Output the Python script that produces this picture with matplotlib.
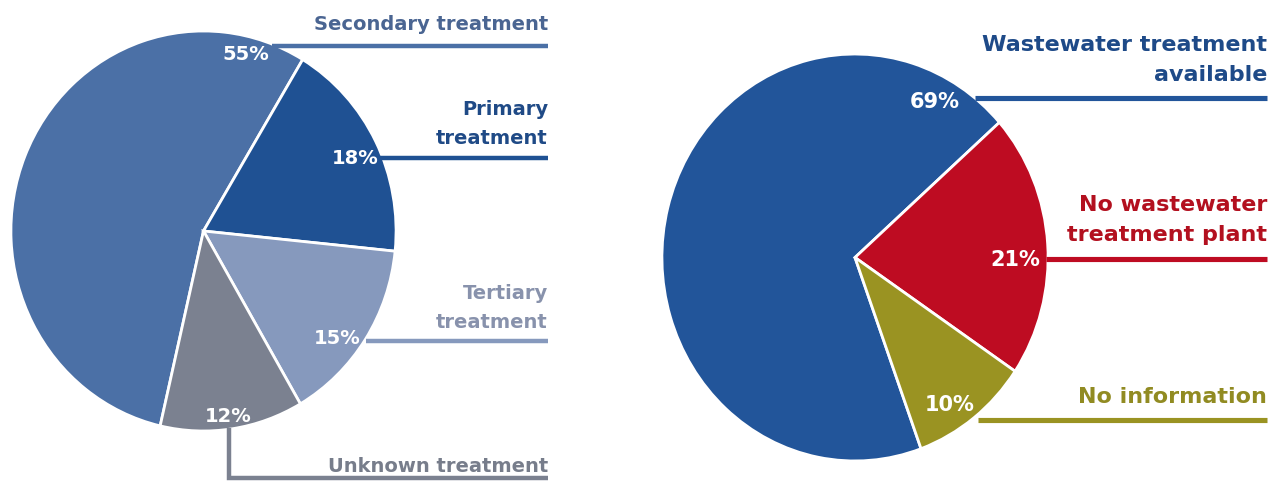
import matplotlib
matplotlib.use("Agg")
import matplotlib.pyplot as plt

# Left chart: treatment level of wastewater
treat_labels = ["Secondary treatment", "Primary\ntreatment", "Tertiary\ntreatment", "Unknown treatment"]
treat_values = [55, 18, 15, 12]
treat_colors = ["#4b70a6", "#1f5193", "#8699bd", "#7b8190"]
treat_text_colors = ["#4a6592", "#1f4a86", "#8892ac", "#777d8b"]

# Right chart: wastewater treatment availability
avail_labels = ["Wastewater treatment\navailable", "No wastewater\ntreatment plant", "No information"]
avail_values = [69, 21, 10]
avail_colors = ["#22559a", "#be0c22", "#9a9322"]
avail_text_colors = ["#1e4a88", "#b3101f", "#918b22"]

W, H = 1276, 482
fig = plt.figure(figsize=(W / 100, H / 100), dpi=100)
fig.patch.set_facecolor("white")


def pie_axes(x0, y0, x1, y1):
    # axes covering the pie's pixel box (image coords, y down)
    ax = fig.add_axes([x0 / W, 1 - y1 / H, (x1 - x0) / W, (y1 - y0) / H])
    return ax


ax1 = pie_axes(9, 29, 398, 433)
ax1.pie(treat_values, colors=treat_colors, startangle=257, counterclock=False,
        radius=1, wedgeprops=dict(edgecolor="white", linewidth=2))
ax1.set_xlim(-1.01, 1.01)
ax1.set_ylim(-1.01, 1.01)
ax1.set_aspect("auto")

ax2 = pie_axes(660, 52, 1050, 463)
ax2.pie(avail_values, colors=avail_colors, startangle=290, counterclock=False,
        radius=1, wedgeprops=dict(edgecolor="white", linewidth=2))
ax2.set_xlim(-1.01, 1.01)
ax2.set_ylim(-1.01, 1.01)
ax2.set_aspect("auto")

# overlay in pixel coordinates for labels and leader lines
ov = fig.add_axes([0, 0, 1, 1])
ov.set_xlim(0, W)
ov.set_ylim(H, 0)
ov.axis("off")

font = "DejaVu Sans"
lw = 3.2

# left: (pct x, pct y, line x start, line y, label y centre)
left_layout = [(246, 55, 272, 46, 25),
               (355, 158, 380, 158, 124),
               (337, 338, 366, 341, 308),
               (228, 416, None, 478, 467)]
for i, (px, py, lx, ly, ty) in enumerate(left_layout):
    ov.text(px, py, f"{treat_values[i]}%", color="white", fontsize=14, fontweight="bold",
            family=font, ha="center", va="center")
    if lx is None:
        ov.plot([229, 229, 548], [428, ly, ly], color=treat_colors[i], lw=lw,
                solid_joinstyle="miter", solid_capstyle="butt")
    else:
        ov.plot([lx, 548], [ly, ly], color=treat_colors[i], lw=lw, solid_capstyle="butt")
    ov.text(548, ty, treat_labels[i], color=treat_text_colors[i], fontsize=14, fontweight="bold",
            family=font, ha="right", va="center", linespacing=1.62)

right_layout = [(935, 102, 975, 98, 60),
                (1015, 260, 1046, 259, 220),
                (950, 405, 978, 420, 397)]
for i, (px, py, lx, ly, ty) in enumerate(right_layout):
    ov.text(px, py, f"{avail_values[i]}%", color="white", fontsize=15, fontweight="bold",
            family=font, ha="center", va="center")
    ov.plot([lx, 1267], [ly, ly], color=avail_colors[i], lw=lw + 0.5, solid_capstyle="butt")
    ov.text(1267, ty, avail_labels[i], color=avail_text_colors[i], fontsize=16, fontweight="bold",
            family=font, ha="right", va="center", linespacing=1.62)

fig.savefig("out.png", dpi=100, facecolor="white")
